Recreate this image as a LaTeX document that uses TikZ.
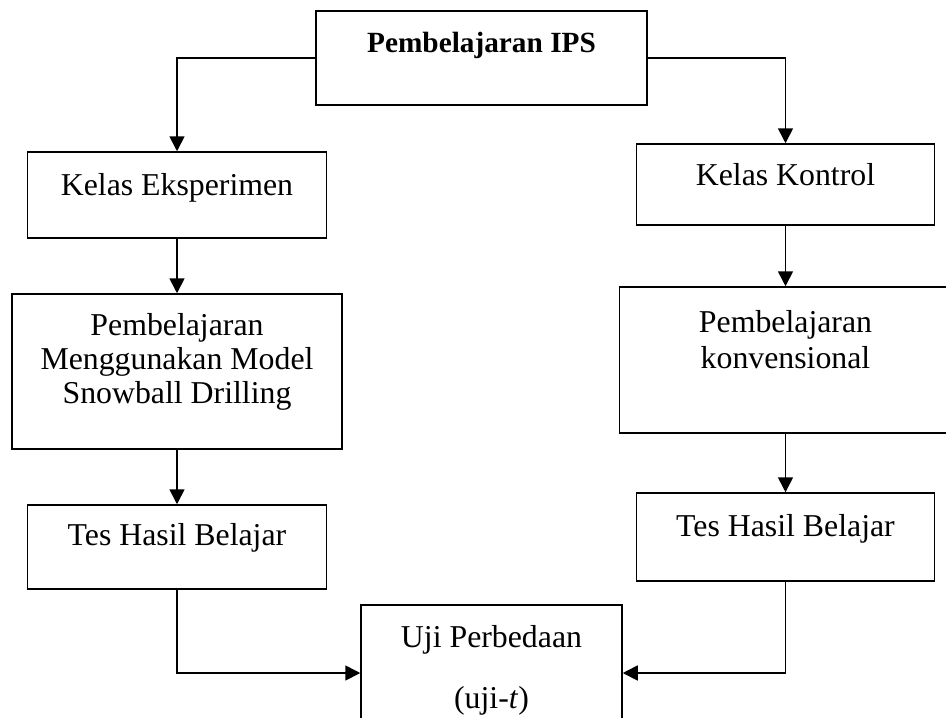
\documentclass[tikz,border=0pt]{standalone}
\usepackage{fontspec}
\setmainfont{Liberation Serif}
\usetikzlibrary{arrows.meta, calc, positioning}
\tikzset{
  >={Triangle[length=7.5pt, width=7.5pt]},
  every picture/.style={line join=miter},
  box/.style={draw, line width=0.75pt, inner sep=0pt},
  txt/.style={anchor=north, align=center, inner sep=0pt,
              font=\fontsize{15.9pt}{17pt}\selectfont},
  head/.style={txt, font=\fontsize{14.65pt}{17pt}\selectfont\bfseries},
  flow/.style={->, line width=0.85pt},
}

\begin{document}
\begin{tikzpicture}[x=0.5pt, y=-0.5pt]
  \clip (0,0) rectangle (946,717);
  % boxes
  \node[box, minimum width=165.5pt, minimum height=47pt] (ips) at (481.5,58) {};
  \node[box, minimum width=149.5pt, minimum height=43pt] (ke) at (177,195) {};
  \node[box, minimum width=165pt, minimum height=77.5pt] (model) at (177,371.5) {};
  \node[box, minimum width=149.5pt, minimum height=42pt] (tl) at (177,547) {};
  \node[box, minimum width=149pt, minimum height=40.5pt] (kk) at (785.5,184.5) {};
  \node[box, minimum width=166pt, minimum height=73pt] (konv) at (785.5,360) {};
  \node[box, minimum width=149pt, minimum height=44pt] (tr) at (785.5,537) {};
  \node[box, minimum width=130.5pt, minimum height=68pt] (uji) at (491.5,673) {};
  % texts
  \node[head] (ips-t) at ($(ips.north)+(0,21.5)$) {Pembelajaran IPS};
  \node[txt] (ke-t) at ($(ke.north)+(0,22)$) {Kelas Eksperimen};
  \node[txt] (model-t) at ($(model.north)+(0,20)$)
    {Pembelajaran\\Menggunakan Model\\Snowball Drilling};
  \node[txt] (tl-t) at ($(tl.north)+(0,19)$) {Tes Hasil Belajar};
  \node[txt] (kk-t) at ($(kk.north)+(0,20)$) {Kelas Kontrol};
  \node[txt] (konv-t) at ($(konv.north)+(0,24)$) {Pembelajaran\\[1pt]konvensional};
  \node[txt] (tr-t) at ($(tr.north)+(0,22)$) {Tes Hasil Belajar};
  \node[txt] (uji-t) at ($(uji.north)+(0,21)$) {Uji Perbedaan\\[13.5pt](uji-\textit{t})};
  % connectors
  \draw[flow] (ips.west) -| (ke.north);
  \draw[flow] (ips.east) -| (kk.north);
  \draw[flow] (ke) -- (model);
  \draw[flow] (model) -- (tl);
  \draw[flow] (kk) -- (konv);
  \draw[flow] (konv) -- (tr);
  \draw[flow] (tl.south) |- (uji.west);
  \draw[flow] (tr.south) |- (uji.east);
\end{tikzpicture}
\end{document}
